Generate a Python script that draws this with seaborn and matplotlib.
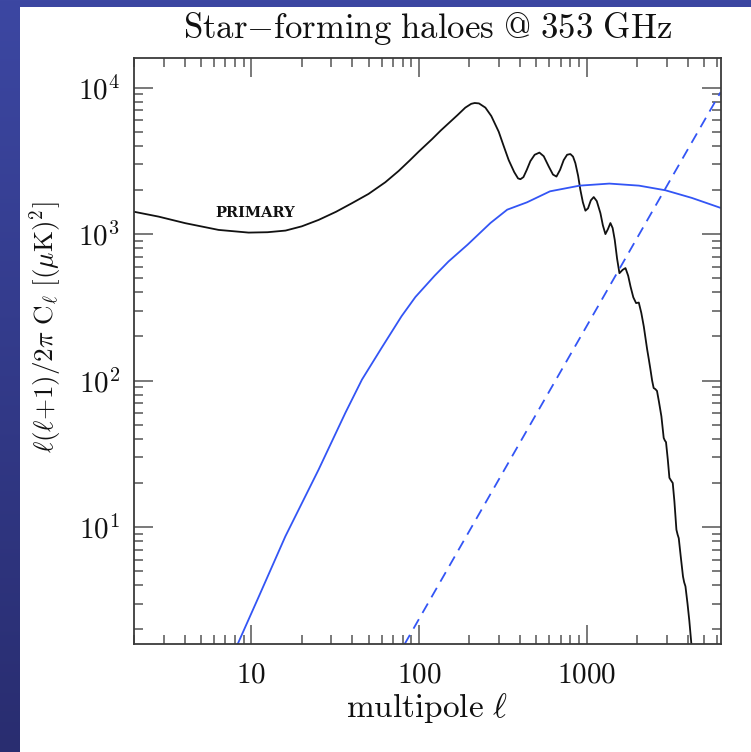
import numpy as np
import pandas as pd
import matplotlib
matplotlib.use("Agg")
import matplotlib.pyplot as plt
from matplotlib.patches import Rectangle
from matplotlib.ticker import FixedLocator, NullFormatter
import seaborn as sns

# Primary CMB temperature spectrum
primary_ell = [2, 2.8, 4.04, 6.38, 9.63, 12.5, 16, 20, 25.2, 32, 39.8, 50, 63, 75.7, 88,
               99.5, 119.7, 135, 150.4, 170, 189, 205, 215, 228, 249, 270, 299, 320, 343,
               370, 390, 403, 420, 440, 462, 490, 523, 555, 594, 630, 661, 695, 730, 765,
               800, 830, 857, 890, 918, 950, 984, 1020, 1060, 1103, 1150, 1209, 1250,
               1295, 1340, 1387, 1430, 1472, 1520, 1570, 1640, 1706, 1770, 1828, 1900,
               1974, 2048, 2120, 2194, 2296, 2350, 2404, 2460, 2512, 2570, 2630, 2700,
               2794, 2884, 2930, 2977, 3050, 3119, 3190, 3265, 3340, 3434, 3490, 3546,
               3650, 3759, 3820, 3888, 4000, 4100, 4220]
primary_power = [1420, 1316, 1187, 1068, 1024, 1030, 1057, 1130, 1250, 1420, 1625, 1880,
                 2260, 2700, 3180, 3650, 4450, 5100, 5714, 6500, 7300, 7750, 7850, 7800,
                 7300, 6400, 5000, 4000, 3200, 2650, 2400, 2370, 2450, 2750, 3150, 3480,
                 3600, 3400, 2900, 2550, 2470, 2750, 3200, 3480, 3520, 3380, 3050, 2500,
                 2004, 1650, 1445, 1500, 1700, 1790, 1680, 1390, 1150, 1000, 1080, 1190,
                 1100, 913, 680, 541, 570, 586, 520, 439, 370, 338, 341, 290, 234, 164,
                 140, 119, 100, 89, 87.5, 85, 72, 57, 40.6, 39, 38, 29, 21.7, 20.8, 20,
                 15, 9.6, 8.9, 8.4, 6.2, 4.6, 4.2, 3.94, 3.0, 2.3, 1.58]

# Clustered emission of star-forming haloes
cluster_ell = [8.1, 11.06, 15.96, 25.2, 36.4, 45.7, 60, 78.7, 95.2, 124, 150, 195, 267,
               336, 441, 605, 909, 1367, 2055, 2953, 4245, 6300]
cluster_power = [1.5, 3.34, 8.65, 24.7, 60.3, 101.6, 168, 275, 372, 520, 650, 847, 1191,
                 1468, 1648, 1959, 2142, 2212, 2142, 1991, 1766, 1510]

# Poisson (shot-noise) term
shot_ell = [82, 200, 500, 1000, 2000, 4000, 6300]
shot_power = [1.585, 9.43, 58.9, 235, 940, 3760, 9300]

x_ticks = [10, 100, 1000]
x_tick_labels = ["10", "100", "1000"]
y_ticks = [10, 100, 1000, 10000]
y_tick_labels = [r"$10^{1}$", r"$10^{2}$", r"$10^{3}$", r"$10^{4}$"]

sns.set_theme(style="white")
plt.rcParams["mathtext.fontset"] = "cm"
plt.rcParams["font.family"] = ["DejaVu Serif", "DejaVu Sans"]

fig = plt.figure(figsize=(7.51, 7.52), dpi=100)

# slide background: blue gradient frame with white panel
bg = fig.add_axes([0, 0, 1, 1], zorder=-10)
bg.axis("off")
grad = np.linspace(0, 1, 256).reshape(-1, 1)
top_c = np.array([0x3c, 0x47, 0xa2]) / 255
bot_c = np.array([0x29, 0x2d, 0x70]) / 255
img = top_c[None, None, :] * (1 - grad[:, :, None]) + bot_c[None, None, :] * grad[:, :, None]
bg.imshow(img, aspect="auto", extent=[0, 1, 0, 1])
bg.add_patch(Rectangle((20 / 751, 0), 1, 1 - 7 / 752, transform=bg.transAxes,
                       facecolor="white", edgecolor="none"))
bg.set_xlim(0, 1)
bg.set_ylim(0, 1)

ax = fig.add_axes([134 / 751, 1 - 644.3 / 752, (720.7 - 134) / 751, (644.3 - 58.3) / 752])
ax.set_facecolor("white")

df_p = pd.DataFrame({"ell": primary_ell, "power": primary_power})
df_c = pd.DataFrame({"ell": cluster_ell, "power": cluster_power})
df_s = pd.DataFrame({"ell": shot_ell, "power": shot_power})

blue = "#3355f5"
sns.lineplot(data=df_p, x="ell", y="power", ax=ax, color="#111111", lw=1.3, estimator=None)
sns.lineplot(data=df_c, x="ell", y="power", ax=ax, color=blue, lw=1.3, estimator=None)
sns.lineplot(data=df_s, x="ell", y="power", ax=ax, color=blue, lw=1.3, estimator=None,
             dashes=False, linestyle=(0, (6, 4)))

ax.set_xscale("log")
ax.set_yscale("log")
ax.set_xlim(10 ** 0.3, 10 ** 3.8)
ax.set_ylim(10 ** 0.2, 10 ** 4.2)

ax.xaxis.set_major_locator(FixedLocator(x_ticks))
ax.set_xticklabels([f"${t}$" for t in x_tick_labels])
ax.yaxis.set_major_locator(FixedLocator(y_ticks))
ax.set_yticklabels(y_tick_labels)
minor = [m * 10 ** e for e in range(0, 5) for m in range(2, 10)]
ax.xaxis.set_minor_locator(FixedLocator(minor))
ax.yaxis.set_minor_locator(FixedLocator(minor))
ax.xaxis.set_minor_formatter(NullFormatter())
ax.yaxis.set_minor_formatter(NullFormatter())

for s in ax.spines.values():
    s.set_color("#3a3a3a")
    s.set_linewidth(1.3)
ax.tick_params(which="both", direction="in", top=True, right=True, bottom=True, left=True,
               color="#555555", width=1.1, labelsize=21, labelcolor="#111111")
ax.tick_params(which="major", length=13.5)
ax.tick_params(which="minor", length=6.5)
ax.tick_params(axis="x", which="major", pad=12)
ax.tick_params(axis="y", which="major", pad=10)

ax.set_xlabel(r"$\mathrm{multipole}\ \ell$", fontsize=24, color="#111111")
ax.xaxis.set_label_coords(0.5, -(708 - 644.3) / 586.0)
ax.xaxis.label.set_va("center")
ax.set_ylabel(r"$\ell(\ell{+}1)/2\pi\ \mathrm{C}_\ell\ [(\mu\mathrm{K})^2]$", fontsize=19.5,
              color="#111111")
ax.yaxis.set_label_coords(-(134 - 46) / 586.7, (644.3 - 327) / 586.0)
ax.yaxis.label.set_va("center")
ax.yaxis.label.set_ha("center")
ax.set_title(r"$\mathrm{Star{-}forming\ haloes\ @\ 353\ GHz}$", fontsize=25,
             color="#111111", pad=14.5)

ax.text(10.6, 1396, "PRIMARY", fontsize=10.5, fontweight="bold", family="DejaVu Serif",
        color="#111111", ha="center", va="center")

fig.savefig("out.png", dpi=100)
